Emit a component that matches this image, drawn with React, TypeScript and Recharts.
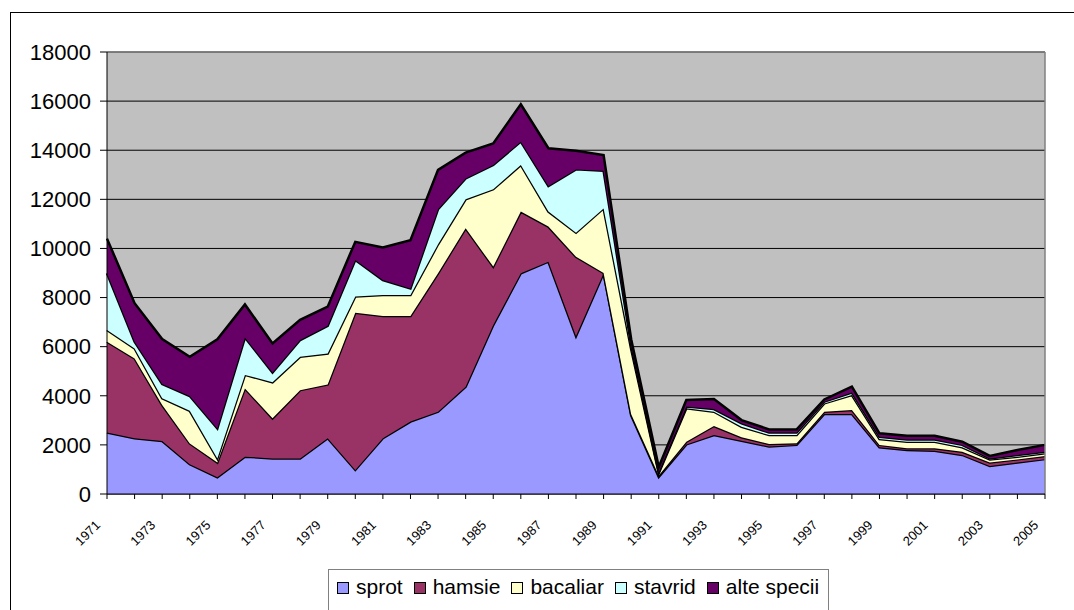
import React from 'react';
import { AreaChart, Area, XAxis, YAxis, CartesianGrid, ReferenceLine } from 'recharts';

const years = ['1971','1972','1973','1974','1975','1976','1977','1978','1979','1980','1981','1982','1983','1984','1985','1986','1987','1988','1989','1990','1991','1992','1993','1994','1995','1996','1997','1998','1999','2000','2001','2002','2003','2004','2005'];

const sprot = [2500,2270,2160,1210,680,1520,1450,1450,2270,980,2270,2950,3350,4370,6880,8990,9460,6430,8990,3200,700,2020,2400,2170,1930,2000,3260,3260,1900,1790,1760,1590,1140,1280,1420];
const hamsie = [3700,3250,1460,850,600,2780,1630,2780,2190,6400,4980,4300,5640,6450,2380,2510,1430,3230,10,50,50,110,370,140,110,70,90,160,100,70,100,130,140,130,130];
const bacaliar = [480,410,280,1330,170,550,1470,1360,1260,660,850,850,1180,1180,3150,1900,610,980,2630,2650,100,1360,580,430,360,330,340,610,240,270,270,180,130,110,110];
const stavrid = [2310,270,580,600,1220,1520,400,680,1130,1490,610,270,1430,850,990,950,1040,2580,1530,150,50,70,110,140,100,100,70,100,90,90,90,100,40,70,60];
const alteSpecii = [1410,1570,1830,1600,3630,1350,1180,820,780,740,1330,1970,1600,1050,880,1520,1540,760,640,250,200,270,410,130,130,130,90,240,140,150,150,130,100,200,280];

const yTicks = [0,2000,4000,6000,8000,10000,12000,14000,16000,18000];

const series = [
  { key: 'sprot', name: 'sprot', color: '#9999FF' },
  { key: 'hamsie', name: 'hamsie', color: '#993366' },
  { key: 'bacaliar', name: 'bacaliar', color: '#FFFFCC' },
  { key: 'stavrid', name: 'stavrid', color: '#CCFFFF' },
  { key: 'alte', name: 'alte specii', color: '#660066' },
];

const data = years.map((y, i) => ({
  year: y,
  sprot: sprot[i],
  hamsie: hamsie[i],
  bacaliar: bacaliar[i],
  stavrid: stavrid[i],
  alte: alteSpecii[i],
}));

const FONT = '"Liberation Sans", Arial, sans-serif';

const XTick = (props: any) => {
  const { x, y, payload, index } = props;
  const tx = x - 6;
  const ty = y + 32;
  return (
    <g>
      <line x1={x} y1={y} x2={x} y2={y + 5} stroke="#000" strokeWidth={1} />
      {index % 2 === 0 && (
        <text
          x={tx}
          y={ty}
          textAnchor="end"
          fontSize={13}
          fontFamily={FONT}
          fill="#000"
          transform={`rotate(-45, ${tx}, ${ty})`}
        >
          {payload.value}
        </text>
      )}
    </g>
  );
};

export default function App() {
  return (
    <div style={{ position: 'absolute', left: 0, top: 0, width: 1074, height: 610, overflow: 'hidden', background: '#fff', fontFamily: FONT }}>
      <div style={{ position: 'absolute', left: 10, top: 12, width: 1064, height: 598, borderLeft: '1px solid #000', borderTop: '1px solid #000', boxSizing: 'border-box' }} />
      <div style={{ position: 'absolute', left: 0, top: 0 }}>
        <AreaChart width={1074} height={610} data={data} margin={{ top: 52, right: 29, left: 0, bottom: 76 }}>
          <CartesianGrid vertical={false} stroke="#000" strokeOpacity={1} fill="#C0C0C0" fillOpacity={1} />
          <XAxis
            dataKey="year"
            interval={0}
            tickLine={false}
            tickSize={0}
            tickMargin={0}
            height={40}
            axisLine={{ stroke: '#000' }}
            tick={<XTick />}
          />
          <YAxis
            width={107}
            domain={[0, 18000]}
            ticks={yTicks}
            interval={0}
            tickSize={7}
            tickMargin={9}
            axisLine={{ stroke: '#000' }}
            tickLine={{ stroke: '#000' }}
            tick={{ fill: '#000', fontSize: 22, fontFamily: FONT }}
          />
          {series.map((s) => (
            <Area
              key={s.key}
              type="linear"
              dataKey={s.key}
              name={s.name}
              stackId="1"
              stroke="#000"
              strokeWidth={2.5}
              fill={s.color}
              fillOpacity={1}
              isAnimationActive={false}
            />
          ))}
          <ReferenceLine y={18000} stroke="#808080" strokeWidth={1.5} />
          <ReferenceLine x="2005" stroke="#808080" strokeWidth={1.5} />
        </AreaChart>
      </div>
      <div
        style={{
          position: 'absolute',
          left: 328,
          top: 569,
          width: 501,
          height: 60,
          border: '1px solid #808080',
          boxSizing: 'border-box',
          display: 'flex',
          flexWrap: 'nowrap',
          alignItems: 'flex-start',
          paddingLeft: 8,
          paddingTop: 5,
          fontSize: 21,
          lineHeight: '24px',
          color: '#000',
          background: '#fff',
          whiteSpace: 'nowrap',
        }}
      >
        {series.map((s) => (
          <div key={s.key} style={{ display: 'flex', alignItems: 'center', marginRight: 11, flexShrink: 0 }}>
            <div style={{ width: 10, height: 10, border: '1px solid #000', background: s.color, marginRight: 7, marginTop: 2, flexShrink: 0 }} />
            <span>{s.name}</span>
          </div>
        ))}
      </div>
    </div>
  );
}
